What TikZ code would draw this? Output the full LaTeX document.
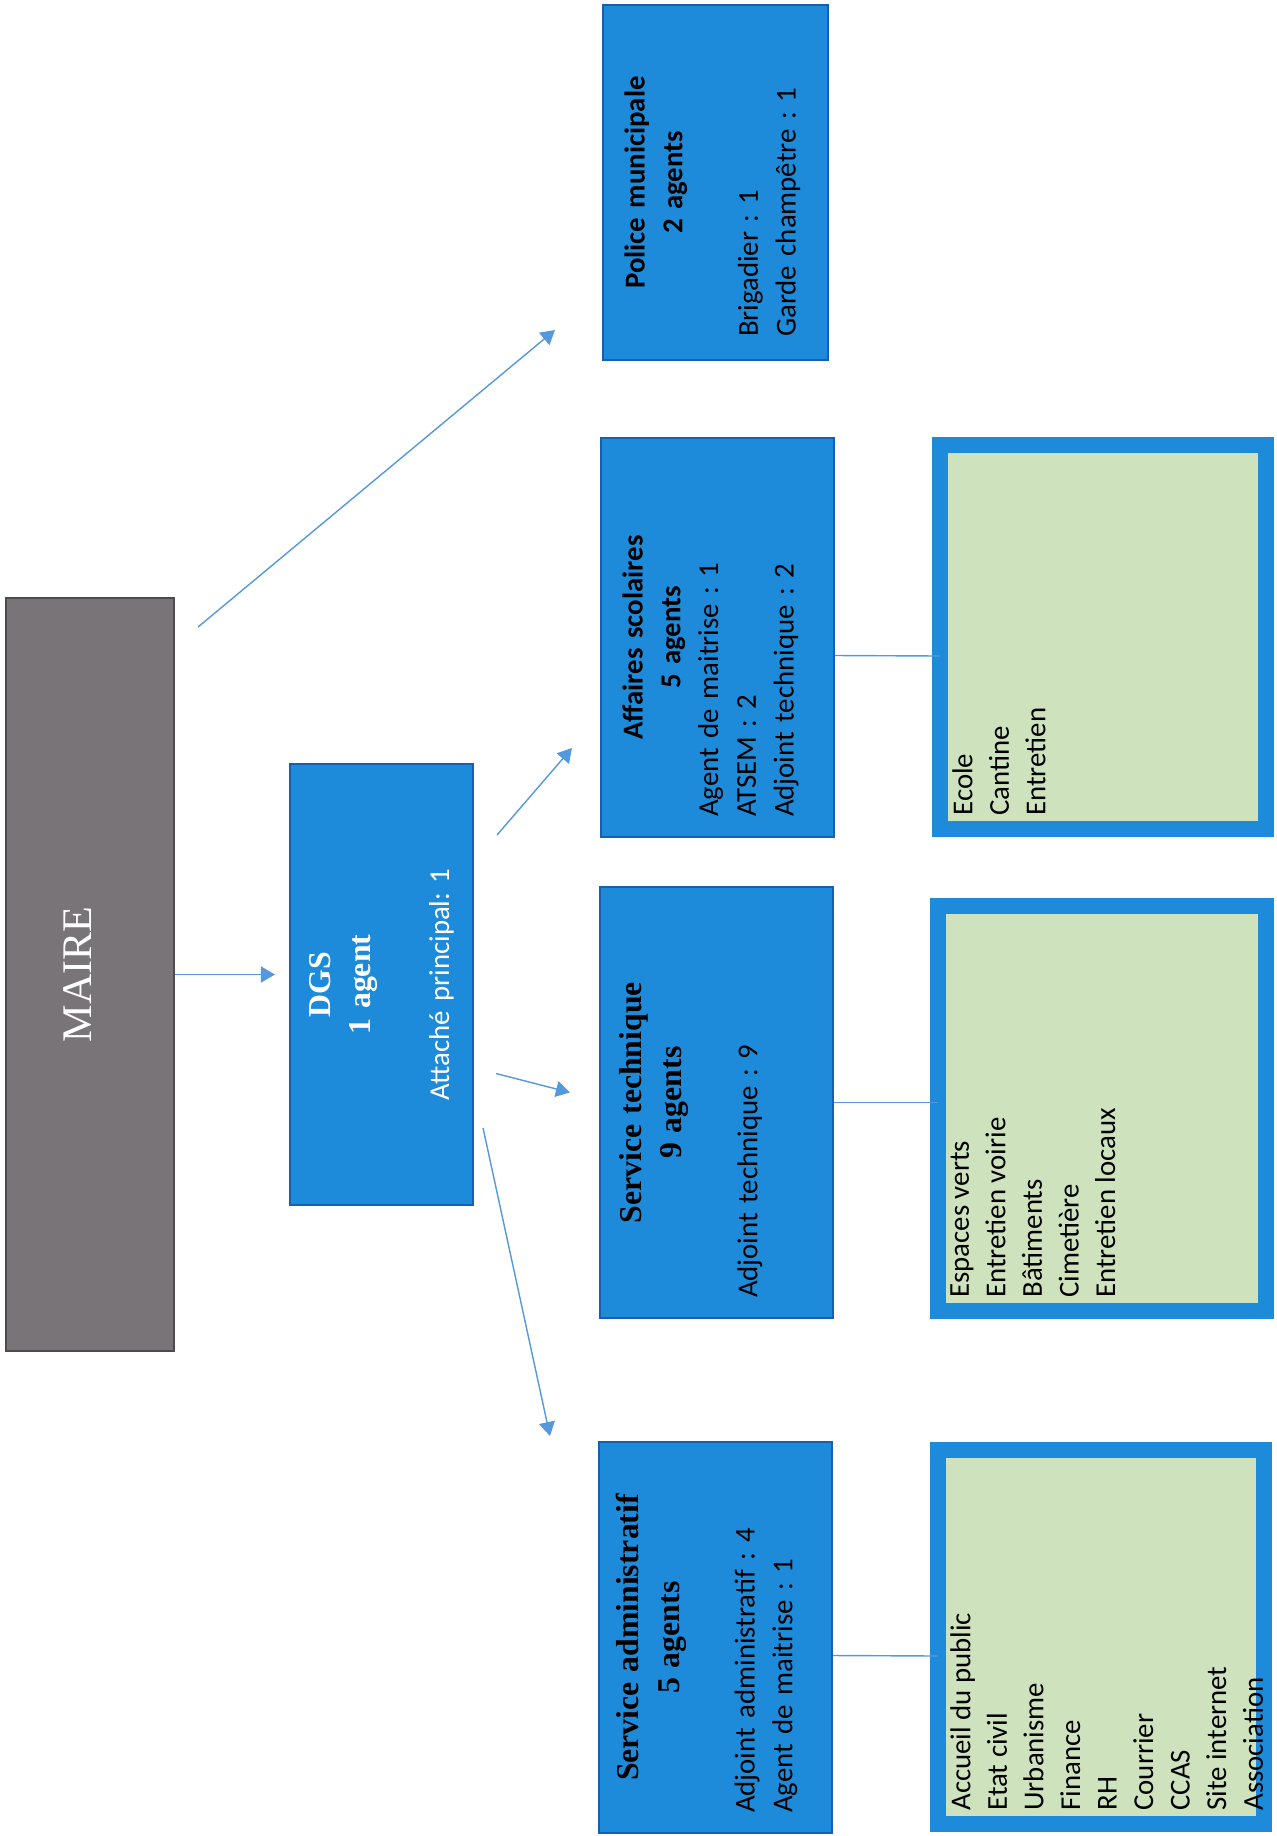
\documentclass[tikz,border=0pt]{standalone}
\usepackage{fontspec}
\setmainfont{Carlito}
\newfontfamily\tnr{Liberation Serif}
\usetikzlibrary{arrows.meta,calc}
\definecolor{boxblue}{RGB}{30,139,218}
\definecolor{boxedge}{RGB}{22,96,178}
\definecolor{listgreen}{RGB}{206,226,190}
\definecolor{mairegray}{RGB}{121,116,119}
\definecolor{linkblue}{RGB}{84,152,222}
\newcommand{\sertitle}{\tnr\bfseries\fontsize{18.1}{23}\selectfont}
\frenchspacing

\begin{document}
\begin{tikzpicture}[x=0.02cm,y=-0.02cm,
  dept/.style={draw=boxedge,fill=boxblue,line width=1.2pt,rotate=90,inner sep=0pt,
    font=\frenchspacing\fontsize{16.4}{21.5}\selectfont},
  listbox/.style={draw=boxblue,fill=listgreen,line width=0.32cm,outer sep=0pt,rotate=90,inner sep=0pt},
  depttxt/.style={rotate=90,inner sep=0pt,align=left,anchor=north,font=\frenchspacing\fontsize{16.4}{21.5}\selectfont},
  listtxt/.style={rotate=90,inner sep=0pt,align=left,anchor=north west,font=\fontsize{16.4}{20.8}\selectfont},
  link/.style={linkblue,line width=0.8pt},
  arr/.style={link,-{Triangle[length=0.28cm,width=0.32cm]}}]
\useasboundingbox (0,0) rectangle (1276,1836);

% top of the chart
\node[draw=black!70,fill=mairegray,line width=1.2pt,rotate=90,minimum width=15.06cm,minimum height=3.36cm,
  text=white,font=\tnr\fontsize{24}{28}\selectfont] (maire) at (90,974.5) {\raisebox{0.5cm}{MAIRE}};
\node[dept,text=white,text width=8cm,align=center,minimum width=8.82cm,minimum height=3.66cm] (dgs) at (381.5,984.5)
  {{\sertitle DGS\\1 agent\par}\vspace{23pt}Attaché principal: 1};

% services
\node[dept,minimum width=7.1cm,minimum height=4.5cm] (police) at (715.5,182.5) {};
\node[dept,minimum width=7.98cm,minimum height=4.66cm] (aff) at (717.5,637.5) {};
\node[dept,minimum width=8.62cm,minimum height=4.66cm] (tech) at (716.5,1102.5) {};
\node[dept,minimum width=7.82cm,minimum height=4.66cm] (admin) at (715.5,1637.5) {};

\node[depttxt,text width=6.18cm] (policetxt) at ($(police.north)+(22,0)$)
  {{\centering\bfseries Police municipale\\2 agents\par}\vspace{21.5pt}Brigadier : 1\\Garde champêtre : 1};
\node[depttxt,text width=7.18cm] (afftxt) at ($(aff.north)+(22,0)$)
  {{\centering\bfseries Affaires scolaires\\5 agents\par}Agent de maitrise : 1\\ATSEM : 2\\Adjoint technique : 2};
\node[depttxt,text width=7.82cm] (techtxt) at ($(tech.north)+(20,0)$)
  {{\centering\sertitle Service technique\\9 agents\par}\vspace{21.5pt}Adjoint technique : 9};
\node[depttxt,text width=7.02cm] (admintxt) at ($(admin.north)+(18,0)$)
  {{\centering\sertitle Service administratif\\5 agents\par}\vspace{21.5pt}Adjoint administratif : 4\\Agent de maitrise : 1};

% missions
\node[listbox,minimum width=7.68cm,minimum height=6.52cm] (ecole) at (1103,637) {};
\node[listbox,minimum width=8.1cm,minimum height=6.56cm] (espaces) at (1102,1108.5) {};
\node[listbox,minimum width=7.48cm,minimum height=6.52cm] (accueil) at (1101,1637) {};

\node[listtxt] (ecoletxt) at ($(ecole.north west)+(12,-13)$) {Ecole\\Cantine\\Entretien};
\node[listtxt] (espacestxt) at ($(espaces.north west)+(12,-13)$)
  {Espaces verts\\Entretien voirie\\Bâtiments\\Cimetière\\Entretien locaux};
\node[listtxt] (accueiltxt) at ($(accueil.north west)+(12,-13)$)
  {Accueil du public\\Etat civil\\Urbanisme\\Finance\\RH\\Courrier\\CCAS\\Site internet\\Association};

% arrows
\draw[arr] ($(maire.south east)+(23,30)$) -- ($(police.north west)+(-47,-31)$);
\draw[arr,shorten >=0.28cm] (maire.south) -- (maire.south -| dgs.north);
\draw[arr] ($(dgs.south east)+(23,72)$) -- ($(aff.north west)+(-28,-90)$);
\draw[arr] ($(dgs.south)+(22,89)$) -- ($(tech.north)+(-29,-10)$);
\draw[arr] ($(dgs.south west)+(9,-78)$) -- ($(admin.north east)+(-48,-5)$);
% plain links
\draw[link] ($(aff.south)+(0,18)$) -- ($(ecole.north)+(0,19)$);
\draw[link] (tech.south) -- (tech.south -| espaces.north);
\draw[link] ($(admin.south)+(0,18)$) -- ($(accueil.north)+(0,19)$);
\end{tikzpicture}
\end{document}
